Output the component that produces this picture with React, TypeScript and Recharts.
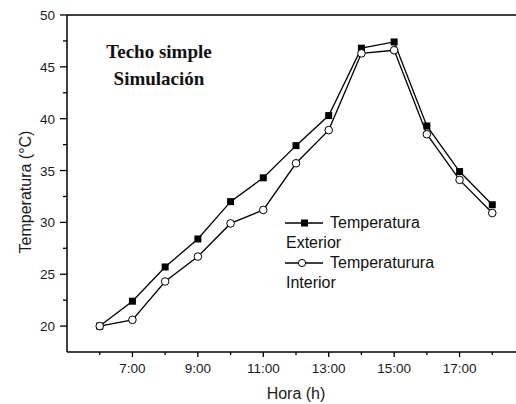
import { LineChart, Line, XAxis, YAxis, ReferenceLine, Legend } from "recharts";

const hours = [6, 7, 8, 9, 10, 11, 12, 13, 14, 15, 16, 17, 18];
const exterior = [20.0, 22.4, 25.7, 28.4, 32.0, 34.3, 37.4, 40.3, 46.8, 47.4, 39.3, 34.9, 31.7];
const interior = [20.0, 20.6, 24.3, 26.7, 29.9, 31.2, 35.7, 38.9, 46.3, 46.6, 38.5, 34.1, 30.9];

const xTicks = [6, 7, 8, 9, 10, 11, 12, 13, 14, 15, 16, 17, 18];
const xLabelled = [7, 9, 11, 13, 15, 17];
const yTicks = [20, 22.5, 25, 27.5, 30, 32.5, 35, 37.5, 40, 42.5, 45, 47.5, 50];
const yLabelled = [20, 25, 30, 35, 40, 45, 50];

const seriesNames = ["Temperatura", "Temperaturura"];
const seriesSub = ["Exterior", "Interior"];

const data = hours.map((h, i) => ({ hour: h, ext: exterior[i], int: interior[i] }));

const SANS = "'Liberation Sans', Arial, sans-serif";
const INK = "#1a1a1a";

/* tick size 6 + margin 2 => axis line sits 8px from the tick anchor */
function XTick(p: any) {
  const major = xLabelled.includes(p.payload.value);
  const y0 = p.y - 8;
  return (
    <g>
      <line x1={p.x} x2={p.x} y1={y0} y2={y0 + (major ? 5 : 3)} stroke="#000" strokeWidth={1.3} />
      {major && (
        <text x={p.x} y={p.y} dy={13} textAnchor="middle" fontSize={13.5} fill={INK} fontFamily={SANS}>
          {`${p.payload.value}:00`}
        </text>
      )}
    </g>
  );
}

function YTick(p: any) {
  const major = yLabelled.includes(p.payload.value);
  const x0 = p.x + 8;
  return (
    <g>
      <line x1={x0} x2={x0 - (major ? 7 : 4)} y1={p.y} y2={p.y} stroke="#000" strokeWidth={1.3} />
      {major && (
        <text x={p.x - 4} y={p.y} dy={5} textAnchor="end" fontSize={13.5} fill={INK} fontFamily={SANS}>
          {p.payload.value}
        </text>
      )}
    </g>
  );
}

function SquareDot(p: any) {
  return <rect key={`sq-${p.index}`} x={p.cx - 3.5} y={p.cy - 3.5} width={7} height={7} fill="#000" />;
}

function LegendBox() {
  const row = { display: "flex", alignItems: "center", height: 20 } as const;
  const sym = (kind: number) => (
    <svg width={38} height={14} style={{ marginRight: 7 }}>
      <line x1={0} x2={38} y1={7} y2={7} stroke="#000" strokeWidth={1.3} />
      {kind === 0 ? (
        <rect x={16} y={3.5} width={7} height={7} fill="#000" />
      ) : (
        <circle cx={17} cy={7} r={3.6} fill="#fff" stroke="#000" strokeWidth={1} />
      )}
    </svg>
  );
  return (
    <div style={{ fontFamily: SANS, fontSize: 16, color: "#111", lineHeight: "20px" }}>
      {seriesNames.map((n, i) => (
        <div key={n}>
          <div style={row}>
            {sym(i)}
            <span>{n}</span>
          </div>
          <div style={{ height: 20, paddingLeft: 1 }}>{seriesSub[i]}</div>
        </div>
      ))}
    </div>
  );
}

export default function App() {
  return (
    <div
      style={{
        position: "fixed",
        left: 0,
        top: 0,
        width: 516,
        height: 404,
        overflow: "hidden",
        background: "#fff",
      }}
    >
      <LineChart width={525} height={404} data={data} margin={{ top: 15, right: 0, bottom: 0, left: 0 }}>
        <XAxis
          dataKey="hour"
          type="number"
          domain={[5, 19]}
          ticks={xTicks}
          interval={0}
          height={52}
          tickSize={6}
          tickMargin={2}
          tickLine={false}
          tick={<XTick />}
          axisLine={{ stroke: "#000", strokeWidth: 1.5 }}
          label={{
            content: (lp: any) => (
              <text
                x={lp.viewBox.x + lp.viewBox.width / 2}
                y={399}
                textAnchor="middle"
                fontSize={16}
                fill={INK}
                fontFamily={SANS}
              >
                Hora (h)
              </text>
            ),
          }}
        />
        <YAxis
          type="number"
          domain={[17.5, 50]}
          ticks={yTicks}
          interval={0}
          width={67}
          tickSize={6}
          tickMargin={2}
          tickLine={false}
          tick={<YTick />}
          axisLine={{ stroke: "#000", strokeWidth: 1.5 }}
          label={{
            content: () => (
              <text
                x={31}
                y={192}
                transform="rotate(-90 31 192)"
                textAnchor="middle"
                fontSize={16}
                fill={INK}
                fontFamily={SANS}
              >
                Temperatura (°C)
              </text>
            ),
          }}
        />
        <ReferenceLine y={50} stroke="#000" strokeWidth={1.5} />
        <Legend
          layout="vertical"
          align="center"
          verticalAlign="middle"
          content={() => <LegendBox />}
          wrapperStyle={{ left: 285, top: 213, width: 220, height: 80 }}
        />
        <Line
          dataKey="ext"
          stroke="#000"
          strokeWidth={1.3}
          dot={SquareDot}
          activeDot={false}
          isAnimationActive={false}
        />
        <Line
          dataKey="int"
          stroke="#000"
          strokeWidth={1.3}
          dot={{ r: 3.8, fill: "#fff", stroke: "#000", strokeWidth: 1 }}
          activeDot={false}
          isAnimationActive={false}
        />
      </LineChart>
      <div
        style={{
          position: "absolute",
          left: 89,
          top: 38,
          width: 140,
          textAlign: "center",
          fontFamily: "'Liberation Serif', 'Times New Roman', serif",
          fontWeight: "bold",
          fontSize: 19,
          lineHeight: "27px",
          color: "#111",
        }}
      >
        Techo simple
        <br />
        Simulación
      </div>
    </div>
  );
}
